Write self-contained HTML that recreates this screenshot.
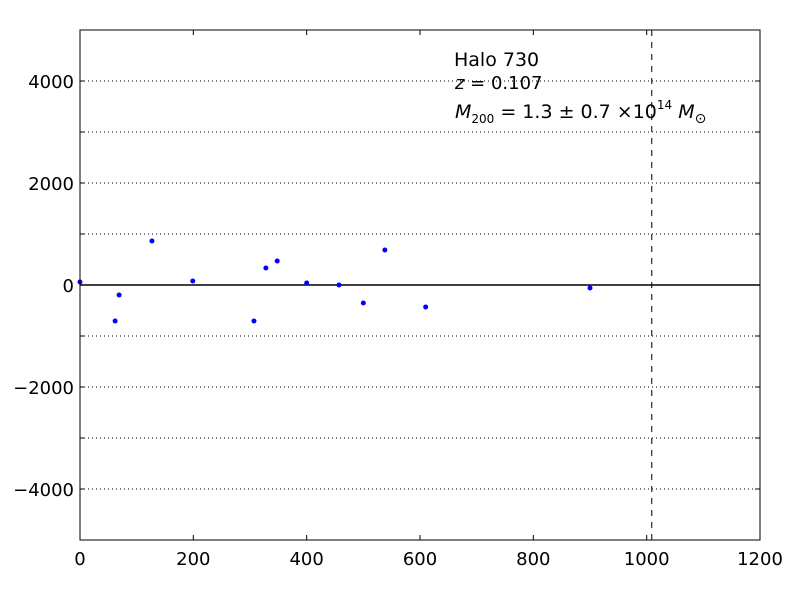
<!DOCTYPE html>
<html><head><meta charset="utf-8"><style>body{margin:0;background:#fff}svg{display:block}text{font-family:"DejaVu Sans","Liberation Sans",sans-serif}</style></head>
<body>
<svg id="c" width="800" height="600"></svg>
<script>
const xs=[0,62,69,127,199,307,328,348,400,457,500,538,610,900];
const ys=[59,-706,-196,863,78,-706,333,471,39,0,-353,686,-431,-59];
const xTicks=[0,200,400,600,800,1000,1200];
const yTicks=[-4000,-2000,0,2000,4000];
const gridY=[-4000,-3000,-2000,-1000,1000,2000,3000,4000];
const vline=1009;
const L=80,R=760,T=30,B=540;
const sx=v=>L+(v/1200)*(R-L);
const sy=v=>T+(5000-v)/10000*(B-T);
const svg=document.getElementById('c');const NS='http://www.w3.org/2000/svg';
function mk(t,a,p){const e=document.createElementNS(NS,t);for(const k in a)e.setAttribute(k,a[k]);(p||svg).appendChild(e);return e;}
let e;
e=mk('rect',{x:0,y:0,width:800,height:600,fill:'#fff'});


gridY.forEach(v=>{e=mk('line',{x1:L,x2:R,y1:sy(v),y2:sy(v),stroke:'#000','stroke-dasharray':'1,3'});

});
e=mk('line',{x1:L,x2:R,y1:sy(0),y2:sy(0),stroke:'#000','stroke-width':1.5});


e=mk('line',{x1:sx(vline),x2:sx(vline),y1:T,y2:B,stroke:'#000','stroke-dasharray':'6,6'});


xs.forEach((x,i)=>{e=mk('circle',{cx:sx(x),cy:sy(ys[i]),r:2.5,fill:'#0000ff'});

});
e=mk('rect',{x:L,y:T,width:R-L,height:B-T,fill:'none',stroke:'#000'});


xTicks.forEach(v=>{mk('line',{x1:sx(v),x2:sx(v),y1:B,y2:B-5,stroke:'#000'});mk('line',{x1:sx(v),x2:sx(v),y1:T,y2:T+5,stroke:'#000'});
e=mk('text',{x:sx(v),y:B+25,'text-anchor':'middle','font-size':18});e.textContent=v;

});
[-4000,-3000,-2000,-1000,0,1000,2000,3000,4000].forEach(v=>{mk('line',{x1:L,x2:L+5,y1:sy(v),y2:sy(v),stroke:'#000'});mk('line',{x1:R,x2:R-5,y1:sy(v),y2:sy(v),stroke:'#000'});});
yTicks.forEach(v=>{e=mk('text',{x:L-6,y:sy(v)+7,'text-anchor':'end','font-size':18});e.textContent=(v<0?'\u2212'+(-v):v);

});
e=mk('text',{x:454,y:66,'font-size':19});e.textContent='Halo 730';


e=mk('text',{x:455,y:89,'font-size':18,'font-family':'DejaVu Serif, serif'});e.innerHTML='<tspan font-style="italic">z</tspan> = 0.107';


e=mk('text',{x:455,y:118,'font-size':19,'font-family':'DejaVu Serif, serif'});e.innerHTML='<tspan font-style="italic">M</tspan><tspan font-size="12" dy="5">200</tspan><tspan dy="-5"> = 1.3 ± 0.7 ×10</tspan><tspan font-size="12" dy="-9">14</tspan><tspan dy="9" font-style="italic"> M</tspan><tspan font-size="14" dy="5">⊙</tspan>';


</script>
</body></html>
